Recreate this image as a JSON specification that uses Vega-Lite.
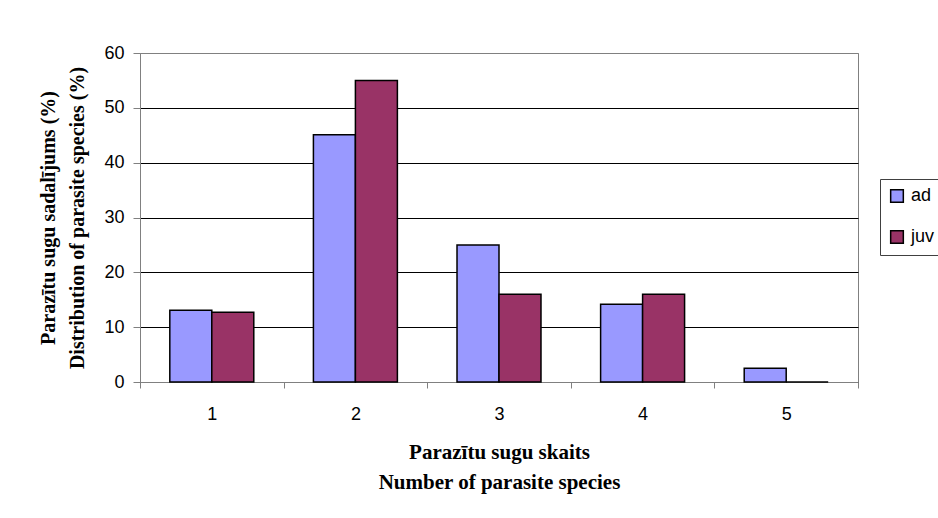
{
  "$schema": "https://vega.github.io/schema/vega-lite/v6.json",
  "width": 718,
  "height": 329,
  "autosize": {"type": "none"},
  "padding": {"left": 140, "top": 53, "right": 80, "bottom": 136},
  "background": "white",
  "config": {
    "view": {"stroke": "#808080", "strokeWidth": 1},
    "axis": {"labelFont": "Liberation Sans", "labelFontSize": 18, "labelColor": "black", "titleFont": "Liberation Serif", "titleFontSize": 20, "titleFontWeight": "bold", "titleColor": "black"}
  },
  "data": {
    "values": [
      {"n": "1", "group": "ad", "pct": 13.1},
      {"n": "1", "group": "juv", "pct": 12.7},
      {"n": "2", "group": "ad", "pct": 45.1},
      {"n": "2", "group": "juv", "pct": 55.0},
      {"n": "3", "group": "ad", "pct": 25.0},
      {"n": "3", "group": "juv", "pct": 16.0},
      {"n": "4", "group": "ad", "pct": 14.2},
      {"n": "4", "group": "juv", "pct": 16.0},
      {"n": "5", "group": "ad", "pct": 2.5},
      {"n": "5", "group": "juv", "pct": 0}
    ]
  },
  "mark": {"type": "bar", "stroke": "black", "strokeWidth": 1.5},
  "encoding": {
    "x": {
      "field": "n", "type": "ordinal",
      "scale": {"paddingInner": 0, "paddingOuter": 0},
      "axis": {
        "title": ["Parazītu sugu skaits", "Number of parasite species"],
        "titleFontSize": 21,
        "titleLineHeight": 30,
        "titleBaseline": "top",
        "titleY": 59,
        "labelAngle": 0,
        "tickBand": "extent",
        "tickSize": 6,
        "tickColor": "#808080",
        "domainColor": "#808080",
        "labelPadding": 17,
        "grid": false
      }
    },
    "xOffset": {
      "field": "group",
      "scale": {"paddingInner": 0, "paddingOuter": 0.71}
    },
    "y": {
      "field": "pct", "type": "quantitative",
      "scale": {"domain": [0, 60], "nice": false},
      "axis": {
        "title": ["Parazītu sugu sadalījums (%)", "Distribution of parasite species (%)"],
        "titleLineHeight": 29,
        "titleAngle": -90,
        "titleBaseline": "top",
        "titleAlign": "center",
        "titleX": -102,
        "titleY": 164.5,
        "values": [0, 10, 20, 30, 40, 50, 60],
        "tickSize": 7,
        "tickColor": "#808080",
        "domainColor": "#808080",
        "labelPadding": 9,
        "grid": true,
        "gridColor": {"condition": {"test": "datum.value == 60", "value": "#808080"}, "value": "black"},
        "gridOpacity": 1
      }
    },
    "color": {
      "field": "group", "type": "nominal",
      "scale": {"domain": ["ad", "juv"], "range": ["#9999FF", "#993366"]},
      "legend": {
        "title": null,
        "orient": "none",
        "legendX": 740,
        "legendY": 126,
        "strokeColor": "#404040",
        "padding": 8,
        "rowPadding": 21,
        "symbolType": "square",
        "symbolSize": 160,
        "symbolStrokeColor": "black",
        "symbolStrokeWidth": 1.5,
        "symbolOpacity": 1,
        "labelFont": "Liberation Sans",
        "labelFontSize": 18,
        "labelColor": "black",
        "labelOffset": 5
      }
    }
  }
}
